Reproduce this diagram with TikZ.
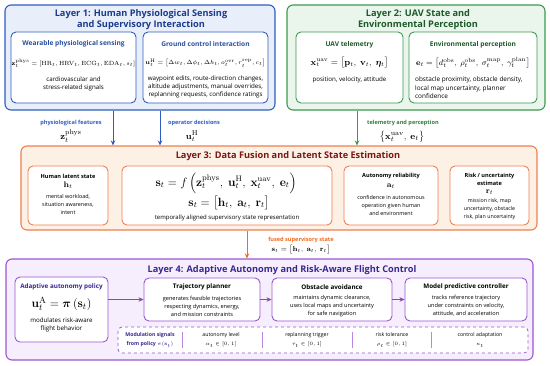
\documentclass[tikz,border=0pt]{standalone}
\usepackage{amsmath,amssymb,bm}
\usepackage[no-math]{fontspec}
\setmainfont{Open Sans}
\usetikzlibrary{arrows.meta,positioning,calc}
\definecolor{humanblue}{HTML}{2F5DBF}
\definecolor{humanfill}{HTML}{E8EFFB}
\definecolor{humantext}{HTML}{1B3A8C}
\definecolor{uavgreen}{HTML}{3C9A50}
\definecolor{uavfill}{HTML}{EAF5EB}
\definecolor{uavtext}{HTML}{1D5A2A}
\definecolor{fuseorange}{HTML}{F07F4F}
\definecolor{fusefill}{HTML}{FDF1E6}
\definecolor{fusetext}{HTML}{7A1616}
\definecolor{fusearrow}{HTML}{F26A1B}
\definecolor{ctrlpurple}{HTML}{9A55D3}
\definecolor{ctrlfill}{HTML}{F6EEFC}
\definecolor{ctrltext}{HTML}{3B2690}

\begin{document}
\begin{tikzpicture}[x=1pt, y=-1pt,
    layerbox/.style={draw, line width=1.1pt, rounded corners=6pt, inner sep=0pt},
    innerbox/.style={draw, fill=white, line width=0.9pt, rounded corners=5pt, inner sep=0pt},
    ttl/.style={font=\bfseries\fontsize{9.2}{11}\selectfont, align=center, inner sep=0pt},
    subttl/.style={font=\bfseries\fontsize{6.6}{8}\selectfont, inner sep=0pt},
    smallttl/.style={font=\bfseries\fontsize{5.6}{8}\selectfont, align=center, inner sep=0pt},
    txt/.style={font=\fontsize{6.2}{8}\selectfont, align=center, inner sep=0pt},
    tinytxt/.style={font=\fontsize{5.4}{7.6}\selectfont, align=center, inner sep=0pt},
    eqn/.style={font=\fontsize{6.5}{8}\selectfont, inner sep=0pt},
    flow/.style={-{Stealth[length=5pt,width=4.5pt]}, line width=1pt}]
\useasboundingbox (0,0) rectangle (550,365);

% Layer 1
\node[layerbox, draw=humanblue, fill=humanfill, minimum width=270pt, minimum height=105pt] (L1) at (140,57.5) {};
\node[ttl, text=humantext] (L1t) at (141,20) {Layer 1: Human Physiological Sensing\\and Supervisory Interaction};
\node[innerbox, draw=humanblue, minimum width=125pt, minimum height=71pt] (wear) at (73.5,67.5) {};
\node[subttl, text=humanblue!85!black] (weart) at (73.5,44) {Wearable physiological sensing};
\node[eqn] (weareq) at (73.5,63) {$\mathbf{z}_t^{\mathrm{phys}} = [\mathrm{HR}_t, \mathrm{HRV}_t, \mathrm{ECG}_t, \mathrm{EDA}_t, s_t]$};
\node[txt] (wearx) at (73.5,84) {cardiovascular and\\stress-related signals};
\node[innerbox, draw=humanblue, minimum width=125pt, minimum height=71pt] (gcs) at (205.5,67.5) {};
\node[subttl, text=humanblue!85!black] (gcst) at (205.5,44) {Ground control interaction};
\node[eqn, font=\fontsize{6.3}{8}\selectfont] (gcseq) at (205.5,63) {$\mathbf{u}_t^{\mathrm{H}} = \big[\Delta w_t, \Delta\phi_t, \Delta h_t, o_t^{\mathrm{ovr}}, r_t^{\mathrm{rep}}, c_t\big]$};
\node[txt] (gcsx) at (205.5,87) {waypoint edits, route-direction changes,\\altitude adjustments, manual overrides,\\replanning requests, confidence ratings};

% Layer 2
\node[layerbox, draw=uavgreen, fill=uavfill, minimum width=258pt, minimum height=105pt] (L2) at (416,57.5) {};
\node[ttl, text=uavtext] (L2t) at (418,20) {Layer 2: UAV State and\\Environmental Perception};
\node[innerbox, draw=uavgreen, minimum width=107pt, minimum height=71pt] (tele) at (349.5,67.5) {};
\node[subttl, text=uavtext] (telet) at (349.5,45) {UAV telemetry};
\node[eqn, font=\fontsize{9}{10}\selectfont] (teleeq) at (349.5,63) {$\mathbf{x}_t^{\mathrm{uav}} = \big[\mathbf{p}_t,\ \mathbf{v}_t,\ \bm{\eta}_t\big]$};
\node[txt] (telex) at (349.5,80) {position, velocity, attitude};
\node[innerbox, draw=uavgreen, minimum width=128pt, minimum height=71pt] (env) at (473,67.5) {};
\node[subttl, text=uavtext] (envt) at (473,45) {Environmental perception};
\node[eqn, font=\fontsize{8.3}{10}\selectfont] (enveq) at (473,63) {$\mathbf{e}_t = \big[d_t^{\mathrm{obs}},\ \rho_t^{\mathrm{obs}},\ \sigma_t^{\mathrm{map}},\ \gamma_t^{\mathrm{plan}}\big]$};
\node[txt, font=\fontsize{6.4}{8.5}\selectfont, align=left, anchor=west] (envx) at (415,88) {obstacle proximity, obstacle density,\\local map uncertainty, planner\\confidence};

% arrow labels into layer 3
\node[smallttl, text=humanblue] (physl) at (71,123) {physiological features};
\node[eqn, font=\fontsize{9.5}{10}\selectfont] (physq) at (71,136) {$\mathbf{z}_t^{\mathrm{phys}}$};
\node[smallttl, text=humanblue] (opl) at (194,123) {operator decisions};
\node[eqn, font=\fontsize{9.5}{10}\selectfont] (opq) at (192,136) {$\mathbf{u}_t^{\mathrm{H}}$};
\node[smallttl, text=uavgreen!80!black] (tpl) at (403,123) {telemetry and perception};
\node[eqn, font=\fontsize{9.5}{10}\selectfont] (tpq) at (402,137) {$\big\{\mathbf{x}_t^{\mathrm{uav}},\ \mathbf{e}_t\big\}$};

% Layer 3
\node[layerbox, draw=fuseorange, fill=fusefill, minimum width=516pt, minimum height=84pt] (L3) at (279,188) {};
\node[ttl, text=fusetext] (L3t) at (288,156) {Layer 3: Data Fusion and Latent State Estimation};
\node[innerbox, draw=fuseorange, minimum width=80pt, minimum height=59pt] (hls) at (68,195.5) {};
\node[smallttl, font=\bfseries\fontsize{5.6}{7}\selectfont] (hlst) at (68,176) {Human latent state};
\node[eqn, font=\fontsize{8}{9}\selectfont] (hlsq) at (68,185.5) {$\mathbf{h}_t$};
\node[tinytxt] (hlsx) at (68,204.5) {mental workload,\\situation awareness,\\intent};
\node[innerbox, draw=fuseorange, minimum width=210pt, minimum height=59pt] (fuse) at (227,195.5) {};
\node[eqn, font=\fontsize{11.5}{13}\selectfont] (fuseq) at (226,183) {$\mathbf{s}_t = f\left(\mathbf{z}_t^{\mathrm{phys}},\ \mathbf{u}_t^{\mathrm{H}},\ \mathbf{x}_t^{\mathrm{uav}},\ \mathbf{e}_t\right)$};
\node[eqn, font=\fontsize{11.5}{13}\selectfont] (fuseq2) at (229,203) {$\mathbf{s}_t = \big[\mathbf{h}_t,\ \mathbf{a}_t,\ \mathbf{r}_t\big]$};
\node[txt, font=\fontsize{6}{8}\selectfont] (fusex) at (227,218) {temporally aligned supervisory state representation};
\node[innerbox, draw=fuseorange, minimum width=94pt, minimum height=59pt] (arel) at (391,195.5) {};
\node[smallttl, font=\bfseries\fontsize{5.6}{7}\selectfont] (arelt) at (391,176) {Autonomy reliability};
\node[eqn, font=\fontsize{8}{9}\selectfont] (arelq) at (391,186) {$\mathbf{a}_t$};
\node[tinytxt] (arelx) at (391,205.5) {confidence in autonomous\\operation given human\\and environment};
\node[innerbox, draw=fuseorange, minimum width=79pt, minimum height=59pt] (risk) at (489.5,195.5) {};
\node[smallttl, font=\bfseries\fontsize{5.6}{8}\selectfont] (riskt) at (489.5,179) {Risk / uncertainty\\estimate};
\node[eqn, font=\fontsize{8}{9}\selectfont] (riskq) at (489.5,192) {$\mathbf{r}_t$};
\node[tinytxt, font=\fontsize{5.3}{8}\selectfont] (riskx) at (489.5,209) {mission risk, map\\uncertainty, obstacle\\risk, plan uncertainty};

% arrow label into layer 4
\node[smallttl, text=fusearrow] (fsl) at (301,240) {fused supervisory state};
\node[eqn, font=\fontsize{7.5}{8}\selectfont] (fsq) at (301,249.5) {$\mathbf{s}_t = \big[\mathbf{h}_t,\ \mathbf{a}_t,\ \mathbf{r}_t\big]$};

% Layer 4
\node[layerbox, draw=ctrlpurple, fill=ctrlfill, minimum width=527pt, minimum height=101pt] (L4) at (269.5,309.5) {};
\node[ttl, text=ctrltext] (L4t) at (282,270) {Layer 4: Adaptive Autonomy and Risk-Aware Flight Control};
\node[innerbox, draw=ctrlpurple, minimum width=93pt, minimum height=65pt] (pol) at (61.5,309.5) {};
\node[subttl, font=\bfseries\fontsize{6.3}{7}\selectfont, text=ctrltext] (polt) at (61.5,287) {Adaptive autonomy policy};
\node[eqn, font=\fontsize{13}{14}\selectfont] (polq) at (61.5,304) {$\mathbf{u}_t^{\mathrm{A}} = \bm{\pi}\left(\mathbf{s}_t\right)$};
\node[txt] (polx) at (61.5,325) {modulates risk-aware\\flight behavior};
\node[innerbox, draw=ctrlpurple, minimum width=116pt, minimum height=43pt] (traj) at (202,299.5) {};
\node[subttl, font=\bfseries\fontsize{6.3}{7}\selectfont] (trajt) at (202,287) {Trajectory planner};
\node[tinytxt, font=\fontsize{5.6}{8}\selectfont] (trajx) at (202,306) {generates feasible trajectories\\respecting dynamics, energy,\\and mission constraints};
\node[innerbox, draw=ctrlpurple, minimum width=120pt, minimum height=43pt] (obst) at (332,299.5) {};
\node[subttl, font=\bfseries\fontsize{6.3}{7}\selectfont] (obstt) at (332,287) {Obstacle avoidance};
\node[tinytxt, font=\fontsize{5.6}{8}\selectfont] (obstx) at (332,306) {maintains dynamic clearance,\\uses local maps and uncertainty\\for safe navigation};
\node[innerbox, draw=ctrlpurple, minimum width=122pt, minimum height=43pt] (mpc) at (466,299.5) {};
\node[subttl, font=\bfseries\fontsize{6.3}{7}\selectfont] (mpct) at (466,287) {Model predictive controller};
\node[tinytxt, font=\fontsize{5.6}{8}\selectfont] (mpcx) at (466,306) {tracks reference trajectory\\under constraints on velocity,\\attitude, and acceleration};

% modulation signals
\node[draw=ctrlpurple, dashed, line width=0.8pt, fill=white, rounded corners=4pt, minimum width=410pt, minimum height=26pt, inner sep=0pt] (mod) at (323,340) {};
\node[smallttl, font=\bfseries\fontsize{5.2}{9}\selectfont, text=ctrltext] (modl) at (150,340) {Modulation signals\\from policy $\pi(\mathbf{s}_t)$};
\node[tinytxt, font=\fontsize{5.2}{9}\selectfont] (alp) at (221,340) {autonomy level\\$\alpha_t \in [0,1]$};
\node[tinytxt, font=\fontsize{5.2}{9}\selectfont] (tau) at (307,340) {replanning trigger\\$\tau_t \in [0,1]$};
\node[tinytxt, font=\fontsize{5.2}{9}\selectfont] (rho) at (392,340) {risk tolerance\\$\rho_t \in [0,1]$};
\node[tinytxt, font=\fontsize{5.2}{9}\selectfont] (kap) at (480,340) {control adaptation\\$\kappa_t$};
\foreach \xd in {182,262,352,431}
    \draw[ctrlpurple!70, line width=1pt] (\xd,332) -- (\xd,348);

% connectors
\coordinate (a1) at (113,0);
\coordinate (a2) at (160,0);
\coordinate (a3) at (357,0);
\coordinate (a4) at (247,0);
\draw[flow, humanblue] (L1.south -| a1) -- (L3.north -| a1);
\draw[flow, humanblue] (L1.south -| a2) -- (L3.north -| a2);
\draw[flow, uavgreen] (L2.south -| a3) -- (L3.north -| a3);
\draw[flow, fusearrow] (L3.south -| a4) -- (L4.north -| a4);
\draw[flow, ctrlpurple!85!black] (pol.east |- traj.west) -- (traj.west);
\draw[flow, ctrlpurple!85!black] (traj) -- (obst);
\draw[flow, ctrlpurple!85!black] (obst) -- (mpc);
\end{tikzpicture}
\end{document}
